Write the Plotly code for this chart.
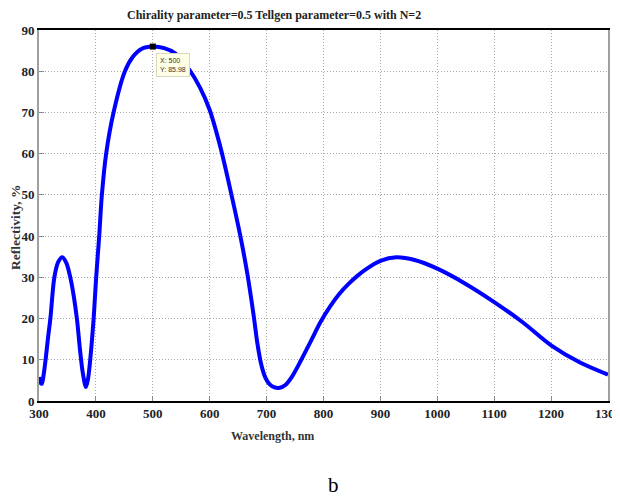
import plotly.graph_objects as go

wavelength = [300, 303, 305, 308, 312, 316, 320, 327, 334, 341, 348, 355, 361, 367, 372, 377, 382.5,
              386, 390, 396, 400.5, 405.8, 410.5, 418, 431, 451, 465, 480, 500, 520, 540, 565, 583,
              600, 611, 621, 637, 653, 666, 677, 684, 691, 698, 705, 714, 723, 733, 745, 761, 778,
              795, 812, 828, 844, 859, 875, 900, 928, 960, 1000, 1050, 1100, 1150, 1200, 1250, 1300]
reflectivity = [5.8, 4.3, 4.2, 6.2, 10.5, 15.5, 20, 30, 33.8, 34.9, 33.5, 30, 25.5, 19.5, 12.5, 6.8, 3.4,
                5.2, 10, 20, 30, 40, 50, 60, 70, 80, 83.5, 85.4, 85.98, 85.6, 84.3, 80.2, 76.0,
                70.6, 65.6, 60.4, 50.8, 40.6, 31, 21, 13.8, 8.6, 5.6, 4.1, 3.3, 3.2, 3.9, 6, 10, 14.6,
                19.2, 23.0, 26.0, 28.4, 30.3, 32.0, 34.0, 34.85, 34.2, 32.1, 28.4, 24.0, 19.1, 13.5, 9.4, 6.4]
x_ticks = [300, 400, 500, 600, 700, 800, 900, 1000, 1100, 1200, 1300]
y_ticks = [0, 10, 20, 30, 40, 50, 60, 70, 80, 90]
tip_x, tip_y = 500, 85.98

serif = "Liberation Serif, Times New Roman, serif"

# plot area geometry (pixels); page has an 8px body margin
PW, PH = 569, 371

fig = go.Figure()
fig.add_trace(go.Scatter(x=wavelength, y=reflectivity, mode="lines",
                         line=dict(color="#0000ff", width=4, shape="spline", smoothing=0.9),
                         hoverinfo="skip"))
fig.add_trace(go.Scatter(x=[tip_x], y=[tip_y], mode="markers",
                         marker=dict(symbol="square", size=6, color="black"), hoverinfo="skip"))

fig.add_annotation(x=tip_x, y=tip_y, xref="x", yref="y", xanchor="left", yanchor="top",
                   xshift=3, yshift=-6, showarrow=False, align="left",
                   text="X: 500<br>Y: 85.98",
                   font=dict(family="Liberation Sans, Arial", size=7, color="#333"),
                   bgcolor="#ffffe6", bordercolor="#d8d8c0", borderwidth=1, borderpad=3)

# title
fig.add_annotation(x=(274 - 39) / PW, y=1 + 15 / PH, xref="paper", yref="paper",
                   xanchor="center", yanchor="middle", showarrow=False,
                   text="Chirality parameter=0.5 Tellgen parameter=0.5 with N=2",
                   font=dict(family=serif, size=12, color="#222", weight="bold"))
# x axis title
fig.add_annotation(x=(272 - 39) / PW, y=-(436 - 401) / PH, xref="paper", yref="paper",
                   xanchor="center", yanchor="middle", showarrow=False,
                   text="Wavelength, nm",
                   font=dict(family=serif, size=12, color="#333", weight="bold"))
# y axis title
fig.add_annotation(x=(15 - 39) / PW, y=(401 - 228) / PH, xref="paper", yref="paper",
                   xanchor="center", yanchor="middle", showarrow=False, textangle=-90,
                   text="Reflectivity, %",
                   font=dict(family=serif, size=13.5, color="#333", weight="bold"))
# panel label
fig.add_annotation(x=(333 - 39) / PW, y=-(485 - 401) / PH, xref="paper", yref="paper",
                   xanchor="center", yanchor="middle", showarrow=False,
                   text="b", font=dict(family=serif, size=21, color="black"))

grid = dict(showgrid=True, gridcolor="#a8a8a8", griddash="1px,2px", gridwidth=1, zeroline=False)

fig.update_layout(
    width=612, height=493,
    margin=dict(l=31, r=12, t=22, b=100, autoexpand=False),
    paper_bgcolor="white", plot_bgcolor="white",
    showlegend=False,
    xaxis=dict(range=[300, 1300], tickvals=x_ticks, ticks="inside", ticklen=5,
               tickcolor="#888", showline=True, linecolor="black", linewidth=1.5, mirror=True,
               automargin=False, ticklabeloverflow="allow",
               tickfont=dict(family=serif, size=13, color="#222", weight="bold"), **grid),
    yaxis=dict(range=[0, 90], tickvals=y_ticks, ticks="inside", ticklen=5,
               tickcolor="#888", showline=True, linecolor="#a0a0a0", linewidth=2, mirror=True,
               automargin=False, ticklabeloverflow="allow",
               tickfont=dict(family=serif, size=13, color="#222", weight="bold"), **grid),
)

fig.write_html("out.html")
